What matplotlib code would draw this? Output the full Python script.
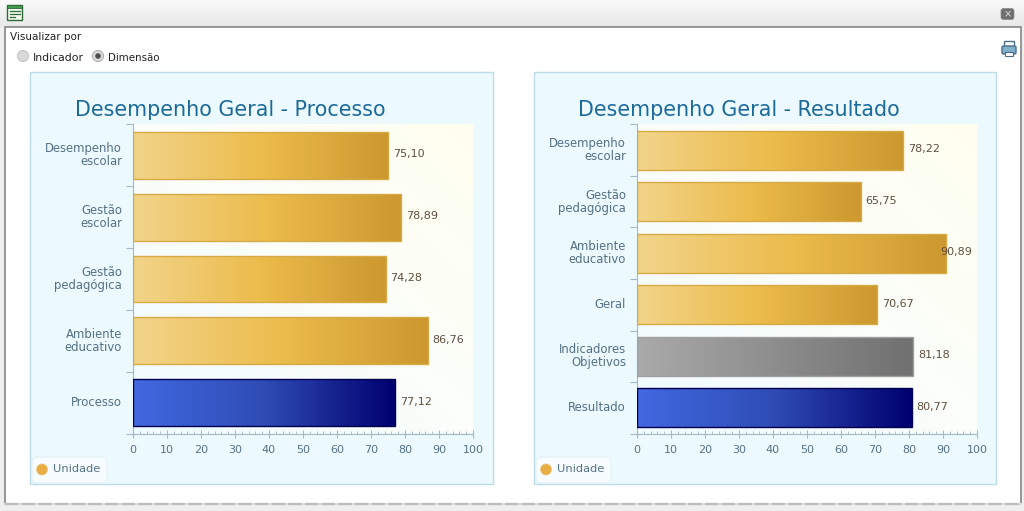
import numpy as np
import matplotlib
matplotlib.use('Agg')
import matplotlib.pyplot as plt
from matplotlib.colors import LinearSegmentedColormap
from matplotlib.patches import Rectangle, FancyBboxPatch, Circle
from matplotlib.transforms import ScaledTranslation

plt.rcParams['font.family'] = ['DejaVu Sans']

W, H = 1024, 511

title_left = 'Desempenho Geral - Processo'
cats_left = ['Desempenho\nescolar', 'Gestão\nescolar', 'Gestão\npedagógica',
             'Ambiente\neducativo', 'Processo']
vals_left = [75.10, 78.89, 74.28, 86.76, 77.12]
kinds_left = ['gold', 'gold', 'gold', 'gold', 'blue']

title_right = 'Desempenho Geral - Resultado'
cats_right = ['Desempenho\nescolar', 'Gestão\npedagógica', 'Ambiente\neducativo',
              'Geral', 'Indicadores\nObjetivos', 'Resultado']
vals_right = [78.22, 65.75, 90.89, 70.67, 81.18, 80.77]
kinds_right = ['gold', 'gold', 'gold', 'gold', 'gray', 'blue']

legend_label = 'Unidade'
x_ticks = list(range(0, 101, 10))

cmaps = {
    'gold': LinearSegmentedColormap.from_list('gold', ['#f2d48a', '#ecbc4c', '#cc982f']),
    'blue': LinearSegmentedColormap.from_list('blue', ['#4169e1', '#2f4cb4', '#000070']),
    'gray': LinearSegmentedColormap.from_list('gray', ['#aaaaaa', '#707070']),
}
edges = {'gold': '#d6aa45', 'blue': '#000050', 'gray': '#a0a0a0'}
bg_cmap = LinearSegmentedColormap.from_list('bg', ['#f0fbff', '#fbfefa', '#fffff0'])

LABEL = '#557186'
AXIS = '#a4b8c6'


def px_axes(x0, y0, x1, y1):
    return fig.add_axes([x0 / W, 1 - y1 / H, (x1 - x0) / W, (y1 - y0) / H])


def draw_panel(x0, x1, title, title_x, cats, vals, kinds, px, py):
    # panel box
    bg.add_patch(Rectangle((x0, 72), x1 - x0, 412, fc='#ecf9fe', ec='#bcdce8', lw=1, zorder=1))
    bg.text(title_x, 110, title, fontsize=14.85, color='#1c6a9c', va='center', ha='left', zorder=2)

    ax = px_axes(px[0], py[0], px[1], py[1])
    ax.patch.set_alpha(0)
    gx, gy = np.meshgrid(np.linspace(0, 1, 60), np.linspace(1, 0, 60))
    ax.imshow(gx * 0.5 + gy * 0.5, cmap=bg_cmap, extent=(0, 100, len(cats), 0),
              aspect='auto', zorder=0)

    up = ScaledTranslation(0, 1.0 / 100, fig.dpi_scale_trans)
    ypos = np.arange(len(cats)) + 0.5
    bars = ax.barh(ypos, vals, height=0.76, color='none', zorder=3, lw=1)
    for bar, v, kind, y in zip(bars, vals, kinds, ypos):
        bar.set_edgecolor(edges[kind])
        im = ax.imshow(np.linspace(0, 1, 256).reshape(1, -1), cmap=cmaps[kind],
                       extent=(0, v, y + 0.38, y - 0.38), aspect='auto', zorder=2)
        im.set_clip_path(bar)
        txt = '{:.2f}'.format(v).replace('.', ',')
        # the label of a long bar sits on its end
        dx = -1.8 if v > 90 else 1.4
        ax.text(v + dx, y, txt, fontsize=8, color='#5e4e40', va='center', ha='left', zorder=4,
                transform=ax.transData + up)
    ax.set_xlim(0, 100)
    ax.set_ylim(len(cats), 0)

    for s in ['top', 'right']:
        ax.spines[s].set_visible(False)
    for s in ['left', 'bottom']:
        ax.spines[s].set_color(AXIS)
        ax.spines[s].set_linewidth(0.8)
    ax.set_xticks(x_ticks)
    ax.set_xticks(np.arange(0, 101, 2), minor=True)
    ax.set_yticks(np.arange(len(cats) + 1))
    ax.set_yticklabels([])
    ax.set_yticks(ypos, minor=True)
    ax.set_yticklabels(cats, minor=True, fontsize=8.4, color=LABEL, linespacing=1.0,
                       ha='right', va='center', multialignment='right')
    ax.tick_params(axis='y', which='minor', length=0, pad=8)
    ax.tick_params(axis='y', which='major', length=5, color=AXIS, width=0.8)
    ax.tick_params(axis='x', which='major', length=6, color=AXIS, width=0.8,
                   labelsize=8, labelcolor=LABEL, pad=5.5, direction='inout')
    ax.tick_params(axis='x', which='minor', length=2, color=AXIS, width=0.6, direction='in')

    # legend chip
    bg.add_patch(FancyBboxPatch((x0 + 2, 457), 75, 26, boxstyle='round,pad=0,rounding_size=5',
                                fc='#f6fcff', ec='#e4f1f6', lw=0.8, zorder=2))
    bg.add_patch(Circle((x0 + 12, 469.5), 5.5, fc='#e8ad45', ec='#eec277', lw=0.5, zorder=3))
    bg.text(x0 + 23, 469, legend_label, fontsize=8.2, color=LABEL, va='center', ha='left', zorder=3)


fig = plt.figure(figsize=(W / 100, H / 100), dpi=100, facecolor='#efefef')

bg = fig.add_axes([0, 0, 1, 1])

# window header strip
header = np.linspace(1, 0, 30).reshape(-1, 1)
bg.imshow(header, cmap=LinearSegmentedColormap.from_list('h', ['#e8e8e8', '#fafafa']),
          extent=(0, W, 27, 0), aspect='auto', zorder=0)
bg.set_xlim(0, W)
bg.set_ylim(H, 0)
bg.axis('off')

bg.add_patch(Rectangle((5, 27), 1016, 477, fc='white', ec='none', zorder=1))
bg.plot([5, 5, 1021, 1021], [504, 27, 27, 504], color='#858585', lw=1.2, zorder=2)
bg.plot([5, 1021], [504.5, 504.5], color='#dcdcdc', lw=1.6, zorder=2)
bg.plot([5, 1021], [504.5, 504.5], color='#bcbcbc', lw=1.6, ls=(0, (6, 1.5)), zorder=2)

# header icon
bg.add_patch(Rectangle((7, 5), 15, 15, fc='#f2f8ec', ec='#2f6a3a', lw=1, zorder=2))
bg.add_patch(Rectangle((7, 5), 15, 3.5, fc='#3f9a4a', ec='#2f6a3a', lw=0.6, zorder=3))
for yy, xe in [(11, 20), (14, 20), (17, 15)]:
    bg.plot([10, xe], [yy, yy], color='#2f6a3a', lw=0.9, zorder=3)

# close button
bg.add_patch(FancyBboxPatch((1001, 8.5), 13, 11, boxstyle='round,pad=0,rounding_size=2.5',
                            fc='#6f6f6f', ec='#8a8a8a', lw=0.5, zorder=2))
bg.text(1007.5, 14, '×', fontsize=7, color='#dddddd', ha='center', va='center', zorder=3)

# controls
bg.text(10, 37.5, 'Visualizar por', fontsize=7.5, color='#222222', va='center', ha='left', zorder=3)
bg.add_patch(Circle((23, 56), 5.5, fc='#d8d8d8', ec='#c4c4c4', lw=0.8, zorder=3))
bg.text(33, 58, 'Indicador', fontsize=7.8, color='#222222', va='center', ha='left', zorder=3)
bg.add_patch(Circle((98, 56), 5.5, fc='#dcdcdc', ec='#b0b0b0', lw=0.8, zorder=3))
bg.add_patch(Circle((98, 56), 2.8, fc='#505050', ec='none', zorder=4))
bg.text(108, 58, 'Dimensão', fontsize=7.4, color='#222222', va='center', ha='left', zorder=3)

# printer icon
bg.add_patch(Rectangle((1004, 41), 10, 7, fc='#ffffff', ec='#4d6d85', lw=1, zorder=3))
bg.add_patch(FancyBboxPatch((1002, 46), 14, 8, boxstyle='round,pad=0,rounding_size=1.5',
                            fc='#7fb0cc', ec='#4d6d85', lw=1, zorder=3))
bg.add_patch(Rectangle((1005, 52), 8, 4, fc='#ffffff', ec='#4d6d85', lw=0.8, zorder=4))

draw_panel(30, 493, title_left, 75, cats_left, vals_left, kinds_left, (133, 473), (124.5, 433.5))
draw_panel(534, 996, title_right, 578, cats_right, vals_right, kinds_right, (637, 977), (124.5, 433.5))

fig.savefig('out.png', dpi=100)
